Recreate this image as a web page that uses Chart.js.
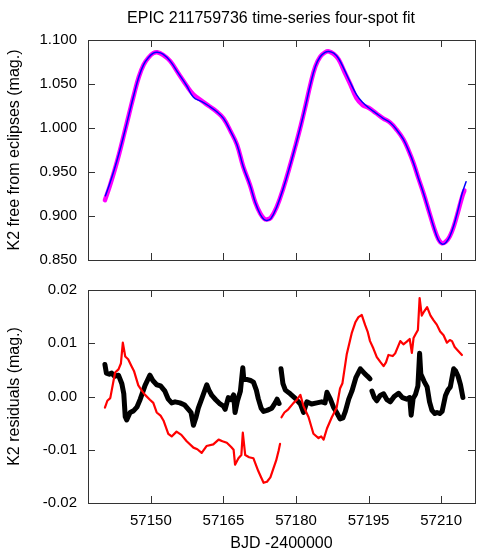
<!DOCTYPE html>
<html>
<head>
<meta charset="utf-8">
<title>EPIC 211759736 time-series four-spot fit</title>
<script src="https://cdn.jsdelivr.net/npm/chart.js@4.4.1/dist/chart.umd.min.js"></script>
<style>
  html, body { margin: 0; padding: 0; background: #fff; }
  #wrap { position: relative; width: 485px; height: 555px; }
  #wrap canvas { position: absolute; left: 0; }
  #top-chart { top: 0; }
  #bottom-chart { top: 270px; }
</style>
</head>
<body>
<div id="wrap">
  <canvas id="top-chart" width="485" height="280"></canvas>
  <canvas id="bottom-chart" width="485" height="285"></canvas>
</div>
<script>
const TITLE = "EPIC 211759736 time-series four-spot fit";
const TOP_Y_TITLE = "K2 free from eclipses (mag.)";
const BOTTOM_Y_TITLE = "K2 residuals (mag.)";
const X_TITLE = "BJD -2400000";

const X_TICKS = [57150, 57165, 57180, 57195, 57210];
const TOP_Y_TICKS = [0.85, 0.9, 0.95, 1.0, 1.05, 1.1];
const BOTTOM_Y_TICKS = [-0.02, -0.01, 0, 0.01, 0.02];

// K2 light curve (magenta) and four-spot model (blue)
const DATA_T = [57140.5, 57141.5, 57142.5, 57143.5, 57144.5, 57145.5, 57146.5, 57147.5, 57148.5, 57149.5,
  57150.5, 57151.3, 57152.5, 57154.0, 57155.7, 57157.4, 57158.8, 57160.5, 57162.0, 57163.5,
  57165.0, 57166.5, 57167.8, 57169.1, 57170.5, 57171.6, 57172.6, 57173.4, 57174.0, 57174.8,
  57176.0, 57177.4, 57178.8, 57180.0, 57181.0, 57182.0, 57183.0, 57184.0, 57185.0, 57186.0,
  57186.8, 57187.8, 57188.8, 57190.0, 57191.2, 57192.5, 57193.8, 57195.0, 57196.5, 57198.0,
  57199.5, 57200.8, 57202.2, 57203.3, 57204.3, 57205.3, 57206.4, 57207.5, 57208.5, 57209.4,
  57210.2, 57211.0, 57211.8, 57212.6, 57213.5, 57214.3, 57214.8];
const DATA_MAG = [0.918, 0.934, 0.952, 0.972, 0.994, 1.016, 1.038, 1.058, 1.072, 1.080,
  1.085, 1.086, 1.083, 1.076, 1.062, 1.048, 1.038, 1.031, 1.025, 1.019,
  1.011, 0.996, 0.981, 0.956, 0.935, 0.915, 0.903, 0.897, 0.896, 0.898,
  0.910, 0.932, 0.958, 0.982, 1.003, 1.026, 1.050, 1.070, 1.081, 1.086,
  1.087, 1.084, 1.078, 1.064, 1.050, 1.034, 1.026, 1.023, 1.017, 1.011,
  1.006, 0.998, 0.987, 0.974, 0.960, 0.943, 0.925, 0.905, 0.887, 0.874,
  0.869, 0.871, 0.877, 0.888, 0.905, 0.921, 0.929];

const MODEL_T = [57140.6, 57141.5, 57142.5, 57143.5, 57144.5, 57145.5, 57146.5, 57147.5, 57148.5, 57149.5,
  57150.5, 57151.3, 57152.5, 57154.0, 57155.7, 57157.4, 57158.8, 57160.5, 57162.0, 57163.5,
  57165.0, 57166.5, 57167.8, 57169.1, 57170.5, 57171.6, 57172.6, 57173.4, 57174.0, 57174.8,
  57176.0, 57177.4, 57178.8, 57180.0, 57181.0, 57182.0, 57183.0, 57184.0, 57185.0, 57186.0,
  57186.8, 57187.8, 57188.8, 57190.0, 57191.2, 57192.5, 57193.8, 57195.0, 57196.5, 57198.0,
  57199.5, 57200.8, 57202.2, 57203.3, 57204.3, 57205.3, 57206.4, 57207.5, 57208.5, 57209.4,
  57210.2, 57211.0, 57211.8, 57212.6, 57213.5, 57214.3, 57215.15];
const MODEL_MAG = [0.923, 0.937, 0.954, 0.973, 0.994, 1.016, 1.038, 1.058, 1.072, 1.080,
  1.085, 1.086, 1.084, 1.076, 1.062, 1.048, 1.035, 1.030, 1.025, 1.019,
  1.011, 0.996, 0.981, 0.956, 0.935, 0.915, 0.902, 0.896, 0.895, 0.897,
  0.910, 0.932, 0.958, 0.982, 1.003, 1.026, 1.050, 1.070, 1.081, 1.086,
  1.087, 1.085, 1.079, 1.066, 1.052, 1.038, 1.029, 1.023, 1.017, 1.011,
  1.006, 0.998, 0.987, 0.974, 0.960, 0.943, 0.925, 0.905, 0.887, 0.873,
  0.868, 0.870, 0.877, 0.889, 0.907, 0.925, 0.939];

// residuals: red = spot-free model, black = four-spot fit (null = gap)
const RED_T = [57140.5, 57141.0, 57141.6, 57142.6, 57143.3, 57143.8, 57144.2, 57144.7, 57145.3, 57146.0,
  57146.5, 57147.4, 57148.2, 57148.8, 57149.8, 57150.5, 57151.2, 57152.0, 57152.6, 57153.6,
  57154.3, 57155.3, 57156.3, 57157.4, 57158.8, 57159.6, 57160.5, 57161.5, 57162.9, 57164.0,
  57164.8, 57165.7, 57166.6, 57167.1, 57167.4, 57168.1, 57168.7, 57169.0, 57169.5, 57170.3,
  57171.2, 57172.2, 57172.8, 57173.3, 57174.0, 57174.7, 57175.3, 57175.9, 57176.4, 57176.7,
  57176.8, 57177.0, 57177.6, 57178.4, 57179.5, 57180.2, 57180.9, 57181.55, 57182.6, 57183.6,
  57184.65, 57185.2, 57185.7, 57186.4, 57187.4, 57188.4, 57189.1, 57189.6, 57190.5, 57191.55,
  57192.3, 57192.9, 57193.6, 57194.3, 57194.8, 57195.3, 57196.0, 57196.7, 57197.5, 57198.1,
  57198.6, 57199.1, 57200.0, 57200.5, 57201.55, 57202.2, 57202.9, 57203.5, 57203.95, 57204.3,
  57204.65, 57205.2, 57205.55, 57206.0, 57206.5, 57207.1, 57207.8, 57208.45, 57209.1, 57209.8,
  57210.5, 57211.2, 57211.8, 57212.25, 57212.8, 57213.3, 57214.3];
const RED_RES = [-0.0021, -0.0008, -0.0003, 0.0045, 0.0051, 0.0062, 0.0101, 0.0075, 0.0070, 0.0057,
  0.0048, 0.0021, 0.0010, 0.0003, -0.0006, -0.0012, -0.0030, -0.0036, -0.0045, -0.0070,
  -0.0075, -0.0066, -0.0072, -0.0084, -0.0096, -0.0099, -0.0106, -0.0093, -0.0090, -0.0081,
  -0.0084, -0.0087, -0.0095, -0.0100, -0.0128, -0.0116, -0.0110, -0.0068, -0.0110, -0.0114,
  -0.0116, -0.0140, -0.0152, -0.0162, -0.0160, -0.0152, -0.0136, -0.0120, -0.0102, -0.0089,
  null, -0.0039, -0.0030, -0.0024, -0.0012, -0.0006, 0.0003, -0.0018, -0.0039, -0.0070,
  -0.0078, -0.0075, -0.0081, -0.0060, -0.0039, -0.0021, 0.0015, 0.0025, 0.0080, 0.0120,
  0.0140, 0.0149, 0.0153, 0.0134, 0.0122, 0.0104, 0.0090, 0.0074, 0.0064, 0.0057,
  0.0064, 0.0078, 0.0076, 0.0081, 0.0104, 0.0098, 0.0103, 0.0108, 0.0082, 0.0110,
  0.0116, 0.0125, 0.0185, 0.0152, 0.0160, 0.0168, 0.0152, 0.0143, 0.0135, 0.0122,
  0.0115, 0.0101, 0.0106, 0.0104, 0.0093, 0.0088, 0.0078];

const BLACK_T = [57140.5, 57140.8, 57141.4, 57141.9, 57142.5, 57143.3, 57144.0, 57144.4, 57144.7, 57145.0,
  57145.7, 57146.4, 57147.1, 57147.8, 57148.8, 57149.8, 57150.4, 57151.2, 57152.0, 57152.9,
  57153.6, 57154.3, 57155.0, 57156.0, 57157.0, 57157.75, 57158.3, 57158.8, 57159.3, 57159.8,
  57160.6, 57161.55, 57162.0, 57162.6, 57163.4, 57164.3, 57165.0, 57165.35, 57166.0, 57166.6,
  57167.1, 57167.4, 57167.9, 57168.5, 57169.0, 57169.2, 57169.8, 57170.6, 57171.2, 57171.8,
  57172.2, 57172.8, 57173.3, 57174.0, 57175.0, 57175.7, 57176.1, 57176.5, 57176.7, 57176.9,
  57177.3, 57177.8, 57178.8, 57179.8, 57180.9, 57181.55, 57182.25, 57183.2, 57184.3, 57185.3,
  57186.0, 57186.4, 57187.1, 57187.75, 57188.4, 57189.1, 57189.7, 57190.2, 57190.9, 57191.55,
  57192.4, 57193.3, 57194.3, 57194.8, 57195.3, 57195.5, 57195.7, 57196.2, 57196.7, 57197.4,
  57198.1, 57198.8, 57199.5, 57200.3, 57201.2, 57202.0, 57202.9, 57203.5, 57203.8, 57204.2,
  57204.7, 57205.2, 57205.55, 57205.8, 57206.5, 57207.1, 57207.6, 57208.1, 57208.7, 57209.15,
  57209.7, 57210.2, 57210.9, 57211.4, 57211.9, 57212.6, 57213.0, 57213.5, 57214.0, 57214.5];
const BLACK_RES = [0.0060, 0.0044, 0.0042, 0.0044, 0.0038, 0.0040, 0.0024, 0.0005, -0.0038, -0.0044,
  -0.0030, -0.0027, -0.0020, -0.0005, 0.0021, 0.0040, 0.0030, 0.0022, 0.0020, 0.0010,
  -0.0005, -0.0012, -0.0010, -0.0012, -0.0016, -0.0024, -0.0030, -0.0054, -0.0040, -0.0022,
  -0.0002, 0.0022, 0.0012, 0.0002, -0.0006, -0.0014, -0.0018, -0.0024, -0.0002, -0.0006,
  0.0003, -0.0030, -0.0008, 0.0010, 0.0054, 0.0032, 0.0032, 0.0030, 0.0027, 0.0012,
  -0.0004, -0.0022, -0.0028, -0.0026, -0.0022, -0.0012, -0.0005, -0.0013, null, 0.0052,
  0.0024, 0.0012, 0.0005, -0.0003, -0.0014, -0.0030, -0.0010, -0.0014, -0.0012, -0.0010,
  -0.0012, 0.0008, -0.0005, -0.0020, -0.0030, -0.0042, -0.0040, -0.0028, -0.0005, 0.0010,
  0.0036, 0.0052, 0.0042, 0.0038, 0.0033, null, 0.0010, -0.0002, -0.0008, 0.0002,
  0.0005, -0.0006, -0.0010, 0.0000, 0.0006, -0.0002, -0.0005, -0.0002, -0.0035, -0.0004,
  0.0004, 0.0020, 0.0081, 0.0042, 0.0028, 0.0018, -0.0010, -0.0026, -0.0032, -0.0030,
  -0.0032, -0.0028, 0.0002, 0.0012, 0.0018, 0.0052, 0.0048, 0.0038, 0.0022, -0.0002];

const FONT = "'Liberation Sans', Arial, Helvetica, sans-serif";
const FRAME_COLOR = "#333333";
const TICK_LEN = 7;

// gnuplot-like frame with inward ticks on all four sides
const frameTicks = {
  id: "frameTicks",
  afterDatasetsDraw(chart) {
    const { ctx, chartArea: area, scales } = chart;
    ctx.save();
    ctx.strokeStyle = FRAME_COLOR;
    ctx.lineWidth = 1;
    ctx.beginPath();
    scales.x.ticks.forEach((tick) => {
      const px = Math.round(scales.x.getPixelForValue(tick.value)) + 0.5;
      ctx.moveTo(px, area.bottom);
      ctx.lineTo(px, area.bottom - TICK_LEN);
      ctx.moveTo(px, area.top);
      ctx.lineTo(px, area.top + TICK_LEN);
    });
    scales.y.ticks.forEach((tick) => {
      const py = Math.round(scales.y.getPixelForValue(tick.value)) + 0.5;
      ctx.moveTo(area.left, py);
      ctx.lineTo(area.left + TICK_LEN, py);
      ctx.moveTo(area.right, py);
      ctx.lineTo(area.right - TICK_LEN, py);
    });
    ctx.stroke();
    ctx.strokeRect(Math.round(area.left) + 0.5, Math.round(area.top) + 0.5,
      Math.round(area.width), Math.round(area.height));
    ctx.restore();
  },
};

const chartTitle = {
  id: "chartTitle",
  afterDraw(chart) {
    const { ctx } = chart;
    ctx.save();
    ctx.font = `16px ${FONT}`;
    ctx.fillStyle = "#000";
    ctx.textAlign = "center";
    ctx.textBaseline = "middle";
    ctx.fillText(TITLE, 271, 19);
    ctx.restore();
  },
};

function toPoints(xs, ys) {
  return xs.map((x, i) => ({ x, y: ys[i] }));
}

function xScale(showLabels, height) {
  return {
    type: "linear",
    min: 57137,
    max: 57217,
    afterBuildTicks(scale) { scale.ticks = X_TICKS.map((value) => ({ value })); },
    afterFit(scale) { scale.height = height; },
    grid: { display: false, drawTicks: false },
    border: { display: false },
    ticks: {
      display: showLabels,
      padding: 9,
      autoSkip: false,
      maxRotation: 0,
      color: "#000",
      font: { family: FONT, size: 15 },
      callback: (value) => String(value),
    },
    title: {
      display: showLabels,
      text: X_TITLE,
      color: "#000",
      font: { family: FONT, size: 16 },
      padding: { top: 0, bottom: 2 },
    },
  };
}

function yScale(min, max, tickValues, digits, titleText) {
  return {
    type: "linear",
    min,
    max,
    afterBuildTicks(scale) { scale.ticks = tickValues.map((value) => ({ value })); },
    afterFit(scale) { scale.width = 88; },
    grid: { display: false, drawTicks: false },
    border: { display: false },
    ticks: {
      padding: 11,
      color: "#000",
      font: { family: FONT, size: 15 },
      callback: (value) => (Math.abs(value) < 1e-9 ? 0 : value).toFixed(digits),
    },
    title: {
      display: true,
      text: titleText,
      color: "#000",
      font: { family: FONT, size: 16 },
      padding: { top: 5, bottom: 0 },
    },
  };
}

function baseOptions(padding, scales) {
  return {
    responsive: false,
    animation: false,
    layout: { padding },
    plugins: { legend: { display: false }, tooltip: { enabled: false }, title: { display: false } },
    elements: { point: { radius: 0 }, line: { borderJoinStyle: "round", borderCapStyle: "round" } },
    scales,
  };
}

new Chart(document.getElementById("top-chart"), {
  type: "scatter",
  data: {
    datasets: [
      {
        label: "Four-spot model",
        data: toPoints(MODEL_T, MODEL_MAG),
        showLine: true,
        borderColor: "#0000ff",
        borderWidth: 1.5,
        tension: 0.4,
        pointRadius: 0,
      },
      {
        label: "K2 data",
        data: toPoints(DATA_T, DATA_MAG),
        showLine: true,
        borderColor: "#ff00ff",
        borderWidth: 4.5,
        tension: 0.4,
        pointRadius: 0,
      },
    ],
  },
  options: baseOptions({ top: 40, right: 10, left: 0, bottom: 0 }, {
    x: xScale(false, 16),
    y: yScale(0.85, 1.1, TOP_Y_TICKS, 3, TOP_Y_TITLE),
  }),
  plugins: [frameTicks, chartTitle],
});

new Chart(document.getElementById("bottom-chart"), {
  type: "scatter",
  data: {
    datasets: [
      {
        label: "Spot-free residuals",
        data: toPoints(RED_T, RED_RES),
        showLine: true,
        spanGaps: false,
        borderColor: "#ff0000",
        borderWidth: 2.2,
        pointRadius: 0,
      },
      {
        label: "Four-spot residuals",
        data: toPoints(BLACK_T, BLACK_RES),
        showLine: true,
        spanGaps: false,
        borderColor: "#000000",
        borderWidth: 5,
        pointRadius: 0,
      },
    ],
  },
  options: baseOptions({ top: 10, right: 10, left: 0, bottom: 0 }, {
    x: xScale(true, 52),
    y: yScale(-0.02, 0.02, BOTTOM_Y_TICKS, 2, BOTTOM_Y_TITLE),
  }),
  plugins: [frameTicks],
});
</script>
</body>
</html>
